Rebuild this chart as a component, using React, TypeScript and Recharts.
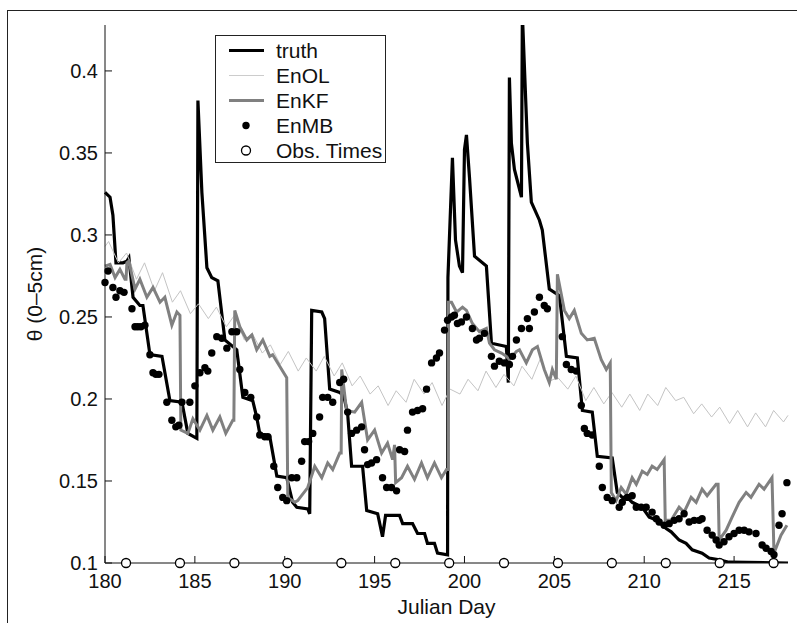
import React from "react";
import { ComposedChart, Line, Scatter, XAxis, YAxis } from "recharts";

const FONT = "'Liberation Sans', Arial, Helvetica, sans-serif";

const xTicks = [180, 185, 190, 195, 200, 205, 210, 215];
const yTicks = [0.1, 0.15, 0.2, 0.25, 0.3, 0.35, 0.4];

// [julian day, soil moisture]
const truth: [number, number][] = [
  [180.0, 0.326], [180.28, 0.323], [180.44, 0.312], [180.61, 0.283], [181.0, 0.283], [181.22, 0.284],
  [181.33, 0.286], [181.56, 0.262], [181.94, 0.257], [182.11, 0.257], [182.5, 0.227], [183.17, 0.226],
  [183.61, 0.199], [184.28, 0.198], [184.61, 0.179], [185.11, 0.176], [185.17, 0.382], [185.39, 0.326],
  [185.67, 0.28], [185.94, 0.274], [186.28, 0.272], [186.67, 0.236], [187.33, 0.23], [187.67, 0.201],
  [188.22, 0.199], [188.44, 0.189], [188.61, 0.179], [189.17, 0.177], [189.56, 0.153], [190.11, 0.152],
  [190.44, 0.137], [190.67, 0.134], [191.28, 0.133], [191.39, 0.13], [191.5, 0.254], [192.06, 0.253],
  [192.22, 0.249], [192.5, 0.206], [193.06, 0.204], [193.28, 0.202], [193.5, 0.191], [193.72, 0.159],
  [194.33, 0.159], [194.56, 0.132], [195.17, 0.13], [195.44, 0.116], [195.61, 0.129], [196.39, 0.129],
  [196.56, 0.124], [197.11, 0.124], [197.39, 0.118], [197.78, 0.118], [197.94, 0.112], [198.33, 0.112],
  [198.5, 0.106], [199.06, 0.105], [199.08, 0.274], [199.33, 0.347], [199.5, 0.297], [199.72, 0.281],
  [199.89, 0.277], [200.0, 0.352], [200.11, 0.361], [200.28, 0.335], [200.56, 0.287], [201.22, 0.281],
  [201.5, 0.234], [202.33, 0.232], [202.44, 0.21], [202.5, 0.396], [202.61, 0.356], [202.78, 0.34],
  [203.17, 0.323], [203.22, 0.435], [203.5, 0.356], [203.72, 0.32], [204.17, 0.309], [204.33, 0.303],
  [204.72, 0.267], [205.28, 0.263], [205.67, 0.226], [206.28, 0.225], [206.56, 0.193], [207.11, 0.192],
  [207.39, 0.165], [208.22, 0.164], [208.5, 0.143], [208.78, 0.14], [209.06, 0.14], [209.33, 0.137],
  [209.89, 0.134], [210.28, 0.128], [210.72, 0.126], [211.22, 0.121], [211.5, 0.119], [211.94, 0.114],
  [212.33, 0.112], [212.67, 0.108], [213.22, 0.106], [213.61, 0.103], [214.17, 0.102], [214.72, 0.1005],
  [218.0, 0.1],
];

const enol: [number, number][] = [
  [180.0, 0.293], [180.2, 0.296], [180.75, 0.283], [181.2, 0.289], [181.75, 0.273], [182.2, 0.283],
  [182.75, 0.266], [183.2, 0.277], [183.75, 0.259], [184.2, 0.266], [184.75, 0.252], [185.2, 0.258],
  [185.75, 0.249], [186.2, 0.256], [186.75, 0.244], [187.2, 0.251], [187.75, 0.236], [188.2, 0.24],
  [188.75, 0.228], [189.2, 0.233], [189.75, 0.221], [190.2, 0.229], [190.75, 0.217], [191.2, 0.225],
  [191.75, 0.217], [192.2, 0.226], [192.75, 0.214], [193.2, 0.222], [193.75, 0.208], [194.2, 0.214],
  [194.75, 0.203], [195.2, 0.208], [195.75, 0.196], [196.2, 0.205], [196.75, 0.198], [197.2, 0.212],
  [197.75, 0.203], [198.2, 0.21], [198.75, 0.196], [199.2, 0.206], [199.75, 0.203], [200.2, 0.212],
  [200.75, 0.205], [201.2, 0.217], [201.75, 0.207], [202.2, 0.215], [202.75, 0.208], [203.2, 0.22],
  [203.75, 0.212], [204.2, 0.224], [204.75, 0.211], [205.2, 0.213], [205.75, 0.206], [206.2, 0.214],
  [206.75, 0.199], [207.2, 0.207], [207.75, 0.197], [208.2, 0.204], [208.75, 0.195], [209.2, 0.203],
  [209.75, 0.193], [210.2, 0.203], [210.75, 0.196], [211.2, 0.207], [211.75, 0.199], [212.2, 0.201],
  [212.75, 0.191], [213.2, 0.197], [213.75, 0.189], [214.2, 0.195], [214.75, 0.185], [215.2, 0.193],
  [215.75, 0.183], [216.2, 0.1915], [216.75, 0.183], [217.2, 0.193], [217.75, 0.186], [218.0, 0.19],
];

const enkf: [number, number][] = [
  [180.0, 0.281], [180.28, 0.282], [180.56, 0.274], [180.83, 0.279], [181.11, 0.273], [181.17, 0.273],
  [181.22, 0.283], [181.33, 0.284], [181.67, 0.267], [181.94, 0.273], [182.33, 0.262], [182.67, 0.268],
  [183.06, 0.259], [183.33, 0.262], [183.72, 0.245], [184.0, 0.253], [184.17, 0.251], [184.22, 0.181],
  [184.61, 0.179], [184.89, 0.188], [185.28, 0.181], [185.67, 0.19], [186.0, 0.181], [186.39, 0.189],
  [186.72, 0.179], [187.11, 0.187], [187.17, 0.187], [187.22, 0.254], [187.5, 0.244], [187.89, 0.236],
  [188.17, 0.239], [188.44, 0.23], [188.78, 0.236], [189.17, 0.226], [189.33, 0.227], [189.72, 0.22],
  [190.11, 0.213], [190.17, 0.14], [190.56, 0.137], [190.72, 0.138], [191.28, 0.146], [191.67, 0.159],
  [192.06, 0.152], [192.39, 0.161], [192.67, 0.157], [193.06, 0.167], [193.14, 0.167], [193.17, 0.218],
  [193.44, 0.193], [193.89, 0.192], [194.28, 0.198], [194.61, 0.175], [195.0, 0.181], [195.39, 0.167],
  [195.72, 0.173], [196.0, 0.163], [196.11, 0.172], [196.17, 0.149], [196.5, 0.152], [196.83, 0.159],
  [197.22, 0.151], [197.61, 0.161], [197.94, 0.152], [198.33, 0.161], [198.72, 0.152], [199.0, 0.157],
  [199.1, 0.157], [199.11, 0.259], [199.28, 0.259], [199.56, 0.253], [199.89, 0.256], [200.11, 0.254],
  [200.44, 0.246], [200.83, 0.241], [201.22, 0.243], [201.39, 0.234], [201.67, 0.23], [202.06, 0.228],
  [202.33, 0.226], [202.5, 0.224], [202.89, 0.229], [203.06, 0.23], [203.44, 0.222], [203.78, 0.23],
  [204.06, 0.232], [204.44, 0.218], [204.72, 0.21], [204.89, 0.218], [205.11, 0.212], [205.17, 0.276],
  [205.56, 0.254], [205.83, 0.249], [206.11, 0.254], [206.5, 0.24], [206.83, 0.236], [207.22, 0.237],
  [207.61, 0.224], [207.89, 0.218], [208.11, 0.222], [208.17, 0.143], [208.44, 0.138], [208.72, 0.146],
  [209.0, 0.142], [209.33, 0.152], [209.56, 0.148], [209.89, 0.156], [210.17, 0.154], [210.44, 0.159],
  [210.72, 0.157], [211.11, 0.163], [211.17, 0.126], [211.5, 0.126], [211.94, 0.134], [212.22, 0.131],
  [212.61, 0.14], [212.89, 0.137], [213.22, 0.145], [213.5, 0.141], [214.0, 0.148], [214.11, 0.148],
  [214.17, 0.114], [214.56, 0.12], [214.89, 0.128], [215.28, 0.137], [215.67, 0.143], [215.94, 0.14],
  [216.39, 0.148], [216.67, 0.145], [217.11, 0.152], [217.22, 0.106], [217.61, 0.117], [217.94, 0.123],
];

const enmb: [number, number][] = [
  [180.0, 0.271], [180.17, 0.278], [180.44, 0.268], [180.61, 0.262], [180.83, 0.266], [181.06, 0.265],
  [181.5, 0.255], [181.67, 0.244], [181.83, 0.244], [182.0, 0.244], [182.22, 0.245], [182.5, 0.227],
  [182.67, 0.216], [182.83, 0.215], [183.0, 0.215], [183.44, 0.198], [183.72, 0.187], [183.94, 0.183],
  [184.11, 0.184], [184.28, 0.198], [184.72, 0.198], [185.0, 0.208], [185.28, 0.216], [185.56, 0.219],
  [185.72, 0.217], [185.94, 0.228], [186.22, 0.238], [186.5, 0.237], [186.78, 0.231], [187.06, 0.241],
  [187.33, 0.241], [187.5, 0.218], [187.78, 0.204], [188.11, 0.201], [188.44, 0.189], [188.61, 0.178],
  [188.89, 0.177], [189.06, 0.177], [189.39, 0.159], [189.61, 0.146], [189.89, 0.14], [190.11, 0.138],
  [190.39, 0.152], [190.67, 0.152], [190.94, 0.162], [191.11, 0.174], [191.33, 0.174], [191.56, 0.179],
  [191.94, 0.189], [192.11, 0.201], [192.39, 0.201], [192.67, 0.198], [193.06, 0.21], [193.28, 0.212],
  [193.5, 0.192], [193.72, 0.179], [194.0, 0.181], [194.28, 0.183], [194.44, 0.169], [194.61, 0.16],
  [194.83, 0.161], [195.11, 0.163], [195.44, 0.152], [195.67, 0.146], [195.94, 0.146], [196.22, 0.144],
  [196.39, 0.169], [196.67, 0.168], [196.83, 0.181], [197.11, 0.192], [197.39, 0.193], [197.67, 0.194],
  [197.89, 0.206], [198.17, 0.222], [198.44, 0.225], [198.61, 0.228], [198.89, 0.242], [199.06, 0.248],
  [199.28, 0.25], [199.44, 0.251], [199.61, 0.246], [199.83, 0.247], [200.11, 0.25], [200.44, 0.243],
  [200.67, 0.236], [200.83, 0.237], [201.11, 0.24], [201.5, 0.226], [201.67, 0.22], [201.94, 0.223],
  [202.22, 0.222], [202.5, 0.221], [202.67, 0.226], [202.89, 0.236], [203.17, 0.243], [203.5, 0.249],
  [203.61, 0.243], [203.89, 0.253], [204.17, 0.262], [204.44, 0.257], [204.61, 0.255], [205.44, 0.238],
  [205.67, 0.221], [205.94, 0.218], [206.22, 0.217], [206.5, 0.196], [206.67, 0.182], [206.83, 0.179],
  [207.11, 0.178], [207.5, 0.159], [207.67, 0.146], [207.94, 0.14], [208.22, 0.138], [208.61, 0.134],
  [208.78, 0.137], [209.06, 0.14], [209.33, 0.141], [209.56, 0.134], [209.83, 0.134], [210.11, 0.134],
  [210.44, 0.131], [210.67, 0.127], [210.83, 0.125], [211.11, 0.123], [211.39, 0.124], [211.67, 0.126],
  [211.94, 0.127], [212.22, 0.13], [212.5, 0.125], [212.78, 0.126], [213.06, 0.126], [213.22, 0.127],
  [213.5, 0.12], [213.78, 0.117], [214.0, 0.114], [214.17, 0.111], [214.44, 0.113], [214.72, 0.116],
  [215.0, 0.118], [215.28, 0.12], [215.56, 0.12], [215.83, 0.119], [216.22, 0.118], [216.56, 0.111],
  [216.78, 0.109], [217.06, 0.107], [217.22, 0.105], [217.5, 0.123], [217.67, 0.13], [217.94, 0.149],
];

const obsDays = [181.17, 184.17, 187.2, 190.15, 193.15, 196.15, 199.15, 202.2, 205.2, 208.2, 211.2, 214.2, 217.2];

const rows = (pts: [number, number][]) => pts.map(([day, v]) => ({ day, v }));
const obsRows = obsDays.map((day) => ({ day, v: 0.1 }));

const Y_DOMAIN: [number, number] = [0.1, 0.428];
const tickStyle = { fontSize: 20, fill: "#111", fontFamily: FONT };

const Dot = (p: any) => <circle cx={p.cx} cy={p.cy} r={3.7} fill="#000" />;
const Ring = (p: any) => <circle cx={p.cx} cy={p.cy} r={4.5} fill="#fff" stroke="#000" strokeWidth={1.3} />;

function LegendBox() {
  const item = (icon: React.ReactNode, label: string) => (
    <div style={{ display: "flex", alignItems: "center", height: 25 }}>
      <svg width={60} height={25}>{icon}</svg>
      <span>{label}</span>
    </div>
  );
  return (
    <div
      style={{
        position: "absolute", left: 215, top: 35, width: 171, height: 128,
        border: "1px solid #222", background: "#fff", fontFamily: FONT, fontSize: 21,
        color: "#111", paddingTop: 2, boxSizing: "border-box",
      }}
    >
      {item(<line x1={13} x2={48} y1={12.5} y2={12.5} stroke="#000" strokeWidth={3.2} />, "truth")}
      {item(<line x1={13} x2={48} y1={12.5} y2={12.5} stroke="#ccc" strokeWidth={1} />, "EnOL")}
      {item(<line x1={13} x2={48} y1={12.5} y2={12.5} stroke="#808080" strokeWidth={3} />, "EnKF")}
      {item(<circle cx={30} cy={12.5} r={3.7} fill="#000" />, "EnMB")}
      {item(<circle cx={30} cy={12.5} r={4.5} fill="#fff" stroke="#000" strokeWidth={1.3} />, "Obs. Times")}
    </div>
  );
}

export default function App() {
  return (
    <div style={{ position: "absolute", left: 0, top: 0, width: 797, height: 623, background: "#fff", overflow: "hidden" }}>
      <div style={{ position: "absolute", left: 7, top: 10, width: 800, height: 630, borderTop: "1.5px solid #222", borderLeft: "1.5px solid #222" }} />
      <ComposedChart width={797} height={623} margin={{ top: 25, right: 9, bottom: 0, left: 0 }}>
        <XAxis
          dataKey="day" type="number" domain={[180, 218]} ticks={xTicks} height={60}
          tickSize={-7} tickMargin={18} tick={tickStyle} stroke="#111"
          label={{ value: "Julian Day", position: "insideBottom", offset: 9, style: { fontSize: 21, fill: "#111", fontFamily: FONT } }}
        />
        <XAxis xAxisId="top" orientation="top" dataKey="day" type="number" domain={[180, 218]} ticks={xTicks} height={0} tickSize={-7} tick={false} stroke="#111" />
        <YAxis
          type="number" domain={Y_DOMAIN} allowDataOverflow ticks={yTicks} width={105}
          tickSize={-7} tickMargin={14} tick={tickStyle} stroke="#111"
          tickFormatter={(v: number) => String(+v.toFixed(2))}
          label={{ value: "θ (0–5cm)", angle: -90, position: "insideLeft", offset: 35, style: { textAnchor: "middle", fontSize: 21, fill: "#111", fontFamily: FONT } }}
        />
        <YAxis yAxisId="right" orientation="right" type="number" domain={Y_DOMAIN} ticks={yTicks} width={0} tickSize={-7} tick={false} stroke="#111" />
        <YAxis yAxisId="obs" type="number" domain={Y_DOMAIN} hide />
        <Line data={rows(truth)} dataKey="v" type="linear" stroke="#000" strokeWidth={3.2} dot={false} isAnimationActive={false} />
        <Line data={rows(enol)} dataKey="v" type="linear" stroke="#c4c4c4" strokeWidth={1} dot={false} isAnimationActive={false} />
        <Line data={rows(enkf)} dataKey="v" type="linear" stroke="#808080" strokeWidth={3} dot={false} isAnimationActive={false} />
        <Scatter data={rows(enmb)} dataKey="v" shape={Dot} isAnimationActive={false} />
        <Scatter data={obsRows} dataKey="v" yAxisId="obs" shape={Ring} isAnimationActive={false} />
      </ComposedChart>
      <LegendBox />
    </div>
  );
}
